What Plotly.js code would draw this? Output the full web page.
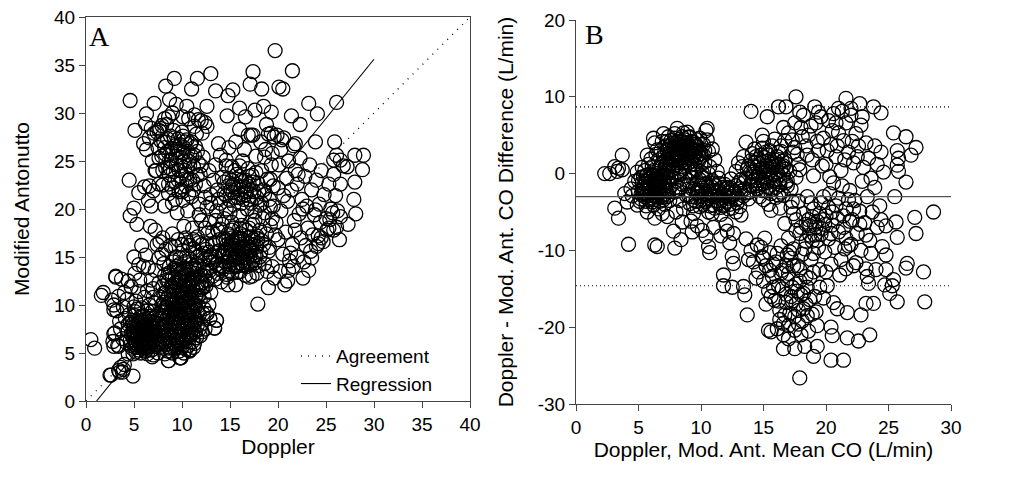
<!DOCTYPE html>
<html>
<head>
<meta charset="utf-8">
<script src="https://cdn.plot.ly/plotly-3.0.1.min.js"></script>
<style>html,body{margin:0;padding:0;background:#fff;}#chart{width:1026px;height:483px;}</style>
</head>
<body>
<div id="chart"></div>
<script>
// ---------- Panel A: Doppler (x) vs Modified Antonutto (y) ----------
const aLowLeft = [[4.2,6.1],[4.4,7.3],[4.6,8.2],[4.5,9.0],[4.8,5.5],[4.9,6.6],[5.0,7.8],[5.1,8.9],[5.2,6.0],[5.3,7.1],[5.4,9.6],[5.5,5.3],[5.6,6.4],[5.7,7.5],[5.8,8.4],[5.9,5.8],[6.0,6.9],[6.1,7.9],[6.2,5.2],[6.3,6.2],[6.4,7.3],[6.5,8.6],[6.6,5.7],[6.7,6.6],[6.8,7.7],[6.9,9.3],[7.0,5.4],[7.1,6.3],[7.2,7.2],[7.3,8.1],[5.0,5.9],[5.4,6.8],[5.9,7.0],[6.3,8.0],[6.0,6.0],[5.6,7.9],[4.7,7.0],[6.7,7.0],[5.2,8.3],[6.5,6.5],[4.1,8.6],[3.9,9.8],[4.3,10.6],[4.0,11.3],[4.7,11.9],[5.2,10.4],[5.8,9.7],[6.1,10.8],[3.6,7.5],[3.5,8.3],[3.2,9.4],[3.0,7.1],[2.8,6.2],[3.3,5.8],[3.8,6.5],[7.4,9.0],[7.6,6.8],[7.5,5.0],[6.4,4.9],[5.7,5.0],[4.9,4.9],[6.9,4.6],[7.2,10.2],[6.6,10.0],[5.5,11.4],[4.4,12.5],[3.7,12.7],[3.1,12.9],[3.4,10.9],[2.9,10.0]];
const aLowLeftCore = [[4.9,7.2],[5.1,6.3],[5.3,5.6],[5.3,7.6],[5.5,6.1],[5.5,8.1],[5.7,6.8],[5.8,5.5],[5.9,7.7],[6.0,6.4],[6.1,5.6],[6.2,7.1],[6.2,8.5],[6.4,6.0],[6.4,6.8],[6.6,7.9],[6.6,6.2],[6.8,5.3],[6.8,7.0],[6.9,6.0],[7.0,7.6],[7.1,8.6],[7.3,5.9],[7.3,6.9],[5.0,7.0],[5.2,5.1],[5.4,6.5],[5.6,7.2],[5.8,6.2],[6.0,7.4],[6.2,6.6],[6.3,5.6],[6.5,7.6],[6.7,8.3],[6.9,7.3],[5.7,8.8],[4.6,6.3],[4.8,8.4],[5.1,9.3],[6.0,8.9],[4.6,5.8],[4.9,8.0],[5.1,5.6],[5.3,6.7],[5.5,7.5],[5.7,5.8],[5.8,7.1],[6.0,5.4],[6.1,8.2],[6.3,7.5],[6.5,5.5],[6.6,8.8],[6.8,6.4],[7.0,8.3],[7.2,5.7],[7.4,6.2],[4.4,8.0],[5.0,9.8],[6.4,9.4],[7.0,10.8]];
const aLowMid = [[7.8,5.6],[7.9,6.8],[8.0,8.0],[8.1,9.2],[8.2,4.9],[8.3,6.2],[8.4,7.4],[8.5,8.7],[8.6,5.5],[8.7,6.6],[8.8,7.9],[8.9,9.5],[9.0,5.0],[9.1,6.0],[9.2,7.1],[9.3,8.3],[9.4,9.1],[9.5,5.6],[9.6,6.7],[9.7,7.7],[9.8,8.8],[9.9,4.5],[10.0,6.1],[10.1,7.3],[10.2,8.4],[10.3,9.6],[10.4,5.4],[10.5,6.5],[10.6,7.8],[10.7,9.0],[10.8,5.2],[10.9,6.9],[11.0,8.1],[11.1,9.4],[11.3,6.0],[11.4,7.2],[11.5,8.5],[11.7,9.9],[11.9,6.8],[12.0,8.0],[12.2,9.1],[12.4,7.5],[12.6,9.1],[12.9,8.6],[13.4,7.6],[13.6,8.4],[12.8,10.0],[8.6,4.2],[9.8,4.5],[10.8,5.3],[11.2,5.6],[8.4,5.9],[9.0,8.6],[10.0,9.9],[9.4,6.4],[10.6,7.0],[8.9,7.3],[9.6,8.1],[11.8,7.5],[7.7,7.4],[8.1,10.3]];
const aLowMidCore = [[8.2,6.6],[8.3,8.4],[8.5,5.2],[8.6,7.1],[8.7,9.0],[8.8,6.0],[8.9,8.2],[9.0,6.8],[9.1,9.6],[9.2,5.4],[9.3,7.6],[9.4,8.7],[9.5,6.2],[9.6,9.9],[9.7,5.2],[9.8,7.0],[9.9,8.3],[10.0,5.6],[10.1,6.8],[10.2,7.9],[10.3,9.0],[10.4,6.2],[10.5,7.5],[10.6,8.6],[10.7,5.8],[10.8,6.6],[10.9,7.9],[11.0,9.2],[11.1,6.2],[11.2,7.6],[11.3,8.8],[11.5,6.6],[11.6,7.9],[11.8,9.0],[8.4,9.8],[9.0,10.1],[9.5,7.2],[10.0,8.7],[10.4,10.3],[8.1,7.7],[8.8,5.2],[9.3,5.9],[10.2,5.0],[11.4,9.9],[12.1,7.2],[7.4,7.8],[7.6,5.9],[7.8,8.6],[8.0,6.3],[8.2,8.9],[8.5,6.9],[8.7,8.1],[8.9,5.8],[9.1,8.0],[9.2,9.1],[9.4,7.3],[9.6,5.9],[9.9,9.2],[10.1,6.4],[10.3,8.2],[10.7,6.8],[10.9,8.4],[11.1,7.0],[11.4,8.2],[11.6,9.4],[7.9,9.3],[8.3,9.7],[9.6,9.0],[10.9,9.7]];
const aMid = [[7.8,10.8],[8.0,12.0],[8.2,13.1],[8.3,11.3],[8.5,10.1],[8.6,12.5],[8.7,14.0],[8.9,11.0],[9.0,12.8],[9.1,10.3],[9.2,13.8],[9.3,11.8],[9.4,15.0],[9.5,10.6],[9.6,12.3],[9.7,14.2],[9.8,11.4],[9.9,13.3],[10.0,10.2],[10.1,15.7],[10.2,12.0],[10.3,14.5],[10.4,11.1],[10.5,13.1],[10.6,16.5],[10.7,12.6],[10.8,14.8],[10.9,10.6],[11.0,13.8],[11.1,11.9],[11.2,15.9],[11.3,12.8],[11.4,10.9],[11.5,14.3],[11.6,17.1],[11.7,13.0],[11.8,11.6],[11.9,15.2],[12.0,12.3],[12.1,16.3],[12.2,13.7],[12.3,10.9],[12.4,14.8],[12.6,12.5],[12.7,17.5],[12.8,15.5],[12.9,13.6],[13.0,11.3],[13.2,16.4],[13.3,14.5],[13.5,12.7],[13.7,17.8],[9.0,17.4],[9.6,16.8],[10.2,18.2],[8.3,15.8],[7.6,14.9],[7.2,13.6],[6.8,12.6],[6.5,13.9],[6.2,15.2],[5.8,16.2],[6.0,14.0],[7.4,16.3],[8.0,17.0],[7.9,15.3],[7.0,11.7],[6.4,11.5],[5.6,12.6],[5.1,13.3],[9.8,9.4],[10.9,12.3],[11.4,15.6],[10.4,17.0],[12.0,18.8],[11.1,18.0],[13.9,13.8],[13.8,15.6],[9.3,16.1],[8.8,16.2],[6.7,18.2],[7.2,17.8],[7.7,16.6],[5.5,14.2],[5.0,15.0],[12.2,15.4],[12.6,13.6],[13.0,15.2],[13.2,17.6],[13.5,18.8],[13.9,16.8],[12.9,18.6],[13.6,19.8],[14.2,18.4],[12.4,18.0],[11.8,19.4]];
const aMidCore = [[8.4,12.6],[8.6,11.0],[8.8,13.4],[8.9,12.0],[9.0,10.6],[9.1,14.5],[9.2,11.4],[9.3,12.9],[9.4,10.2],[9.5,13.7],[9.6,11.0],[9.7,12.6],[9.8,14.9],[9.9,10.7],[10.0,12.9],[10.1,11.5],[10.2,13.8],[10.3,10.4],[10.4,12.4],[10.5,15.1],[10.6,11.3],[10.7,13.6],[10.8,12.0],[10.9,14.2],[11.0,10.9],[11.1,12.7],[11.2,14.0],[11.3,11.4],[11.4,13.3],[11.5,12.1],[11.6,15.0],[11.7,11.0],[11.8,14.0],[12.0,13.1],[12.2,11.8],[12.4,13.0],[12.5,15.8],[9.6,13.5],[10.3,13.2],[10.7,10.1],[9.3,9.8],[11.3,10.1],[10.0,16.3],[11.8,16.5],[12.9,14.9],[7.9,10.0],[8.1,11.2],[8.4,10.6],[8.6,13.3],[8.8,10.5],[9.0,11.8],[9.3,12.3],[9.5,11.2],[9.7,10.0],[9.8,12.8],[10.0,11.4],[10.2,10.8],[10.4,13.8],[10.5,9.8],[10.6,12.2],[10.8,10.9],[11.0,12.5],[11.2,10.2],[11.3,13.8],[11.5,11.0],[11.7,12.3],[11.9,10.5],[12.1,11.8],[12.3,9.6],[12.5,12.0],[7.6,12.3],[8.1,14.3],[9.4,14.0],[10.8,16.2],[11.2,16.8],[12.6,16.4]];
const aRightMid = [[13.2,13.0],[13.6,14.2],[13.9,15.6],[14.1,12.4],[14.2,13.6],[14.3,16.8],[14.5,14.5],[14.6,15.8],[14.7,12.9],[14.8,17.4],[14.9,14.0],[15.0,15.2],[15.1,16.4],[15.2,13.3],[15.3,18.0],[15.4,14.8],[15.5,15.9],[15.6,12.1],[15.7,17.0],[15.8,14.2],[15.9,15.4],[16.0,16.6],[16.1,13.5],[16.2,18.3],[16.3,14.9],[16.4,16.0],[16.5,17.2],[16.6,13.1],[16.7,15.3],[16.8,16.5],[16.9,14.3],[17.0,18.0],[17.1,15.8],[17.2,17.1],[17.3,13.0],[17.4,14.6],[17.5,16.3],[17.6,18.8],[17.7,15.2],[17.8,13.3],[17.9,16.9],[18.0,14.1],[18.1,17.8],[18.2,15.5],[18.4,19.0],[18.5,16.3],[18.6,14.3],[18.8,17.4],[18.9,13.5],[19.0,15.6],[19.2,18.3],[14.0,17.9],[13.5,16.5],[12.8,14.7],[14.4,19.0],[15.0,19.6],[16.0,19.3],[16.8,20.0],[17.6,19.7],[18.3,20.6],[19.2,20.2],[15.2,17.8],[14.6,13.2],[16.4,14.1],[17.0,12.9],[15.6,15.0],[16.2,15.8],[15.0,16.1],[18.6,19.6],[19.4,19.0]];
const aRightMidCore = [[14.5,15.5],[14.7,16.3],[14.9,15.0],[15.0,14.2],[15.1,15.8],[15.2,17.0],[15.4,16.2],[15.5,14.1],[15.6,15.5],[15.7,16.4],[15.8,13.4],[15.9,16.9],[16.0,15.0],[16.1,14.4],[16.2,16.9],[16.3,15.5],[16.5,14.5],[16.6,16.0],[16.7,17.8],[16.8,14.9],[17.0,16.0],[17.1,14.2],[17.2,15.6],[17.4,16.8],[17.5,15.1],[14.3,15.1],[14.0,14.1],[13.7,13.3],[13.5,15.0],[17.8,16.1],[14.3,14.0],[14.6,16.8],[14.8,15.4],[15.0,13.6],[15.3,16.6],[15.5,15.1],[15.7,14.0],[15.9,15.9],[16.1,17.4],[16.3,14.2],[16.5,15.6],[16.7,14.0],[16.9,17.0],[17.1,15.1],[17.3,16.2],[17.6,14.4],[17.8,17.2],[18.1,15.0],[18.3,16.7],[16.0,18.0],[15.2,18.6],[17.4,18.4]];
const aUpper = [[12.6,20.2],[13.0,21.5],[13.3,23.0],[13.5,24.6],[13.7,22.0],[14.0,20.6],[14.2,23.3],[14.4,21.6],[14.6,24.5],[14.8,22.4],[15.0,20.9],[15.2,23.0],[15.3,21.7],[15.5,24.0],[15.6,22.6],[15.8,21.2],[16.0,23.4],[16.1,22.0],[16.3,25.0],[16.4,21.0],[16.6,23.0],[16.7,21.8],[16.9,24.2],[17.0,22.6],[17.2,20.6],[17.3,23.5],[17.5,21.8],[17.7,25.5],[17.9,22.7],[18.1,20.4],[18.3,24.0],[18.5,22.0],[18.7,26.2],[18.9,23.1],[19.1,21.0],[19.3,24.6],[19.5,22.4],[14.0,25.6],[14.9,26.4],[15.6,27.0],[16.5,26.2],[17.2,27.7],[12.3,22.4],[12.0,24.5],[13.8,26.8],[14.6,25.1],[13.0,20.6],[13.8,21.0],[14.6,20.0],[15.4,20.4],[16.2,20.6],[17.0,21.0],[17.8,21.2]];
const aUpperCore = [[14.6,21.4],[14.9,23.2],[15.1,22.0],[15.3,22.5],[15.5,21.2],[15.7,23.6],[15.9,22.3],[16.1,21.5],[16.2,23.0],[16.4,22.3],[16.6,21.5],[16.8,22.4],[17.0,23.4],[17.2,22.0],[17.4,22.8],[15.2,24.4],[16.0,24.5],[17.7,23.8],[14.4,22.8],[18.0,21.8]];
const aUpperLeft = [[6.0,26.8],[6.3,26.2],[6.6,27.4],[6.9,25.0],[7.1,27.9],[7.3,24.0],[7.5,26.4],[7.7,28.4],[7.9,25.5],[8.0,22.5],[8.1,27.0],[8.3,24.3],[8.4,28.8],[8.5,26.0],[8.6,21.6],[8.7,23.5],[8.8,27.6],[8.9,25.1],[9.0,20.6],[9.1,28.2],[9.2,22.8],[9.3,26.6],[9.4,24.6],[9.5,19.6],[9.6,27.3],[9.7,21.8],[9.8,25.4],[9.9,23.4],[10.0,28.0],[10.1,20.9],[10.2,26.4],[10.3,24.0],[10.4,22.4],[10.5,27.2],[10.6,19.8],[10.7,25.0],[10.8,23.1],[10.9,26.8],[11.0,21.3],[11.2,24.4],[11.3,28.6],[11.4,22.6],[11.6,26.0],[11.8,20.5],[11.9,23.6],[12.1,27.9],[12.2,25.4],[12.4,21.2],[12.6,28.6],[12.8,24.0],[7.2,24.0],[7.6,22.6],[8.2,20.3],[7.0,21.9],[6.6,22.4],[9.0,30.0],[8.6,29.6],[7.9,28.7],[7.4,28.0],[6.8,28.4],[10.7,29.4],[11.7,29.3],[12.4,29.0],[9.7,26.0],[8.3,25.7]];
const aUpperLeftCore = [[8.2,26.4],[8.5,27.3],[8.7,25.0],[8.9,26.3],[9.1,23.9],[9.2,27.4],[9.4,25.5],[9.6,23.0],[9.8,26.7],[9.9,24.5],[10.1,27.6],[10.2,25.0],[10.4,23.6],[10.6,26.0],[10.8,24.6],[11.0,27.0],[11.1,23.0],[11.3,25.6],[11.5,27.8],[11.7,24.8],[7.8,27.1],[7.6,25.3],[8.0,24.0],[9.0,22.2],[10.0,21.8],[8.6,22.6],[8.8,24.2],[9.0,25.8],[9.3,21.0],[9.5,26.2],[9.7,24.0],[9.9,22.0],[10.1,25.8],[10.3,27.0],[10.5,23.0],[10.7,21.6],[11.0,25.5],[11.2,22.0],[11.4,26.5],[11.6,23.5]];
const aRightSpread = [[18.2,27.0],[18.6,25.4],[19.0,27.8],[19.4,25.8],[19.6,27.5],[20.1,24.6],[20.3,26.2],[20.6,27.4],[20.9,23.2],[21.1,25.0],[21.4,22.0],[21.6,26.6],[21.8,24.0],[22.0,22.6],[22.3,25.3],[22.5,21.0],[22.8,23.4],[23.0,20.3],[23.3,24.6],[23.5,22.0],[23.8,19.4],[24.0,23.0],[24.3,20.5],[24.5,24.0],[24.8,21.5],[25.0,19.0],[25.3,22.6],[25.5,20.0],[25.8,23.6],[26.0,21.4],[26.2,19.8],[26.5,22.6],[26.8,24.5],[19.5,20.3],[19.8,18.6],[20.0,16.8],[20.3,19.8],[20.5,15.3],[20.8,17.6],[21.0,20.8],[21.2,14.6],[21.5,16.3],[21.7,18.8],[22.0,15.0],[22.2,19.5],[22.4,17.0],[22.7,14.5],[22.9,16.2],[23.1,18.0],[23.4,15.6],[23.6,17.3],[23.9,19.9],[24.2,17.2],[24.4,18.6],[24.7,16.6],[25.1,17.8],[25.4,18.9],[25.7,19.6],[26.1,18.1],[19.1,16.0],[19.4,14.0],[19.6,12.8],[20.2,13.5],[21.0,12.5],[20.6,21.4],[19.2,23.1],[22.6,20.0],[21.3,15.4],[18.6,21.5],[22.1,23.6],[20.0,22.2],[19.7,17.3],[23.2,13.6],[21.8,17.8]];
const aOutliers = [[19.7,36.5],[21.5,34.4],[17.4,34.3],[13.0,34.1],[9.2,33.6],[11.6,33.6],[8.3,32.8],[11.0,32.5],[13.5,32.3],[15.3,32.4],[17.1,33.0],[20.1,32.7],[20.5,32.5],[18.3,32.5],[14.8,31.8],[4.6,31.3],[26.1,31.1],[23.2,31.0],[8.7,31.4],[7.1,31.0],[12.6,30.7],[9.4,30.9],[10.5,30.7],[16.0,30.5],[17.6,30.3],[18.5,30.7],[19.3,30.1],[16.6,29.6],[14.7,29.7],[21.4,29.7],[24.1,29.9],[22.3,28.8],[6.3,29.9],[6.2,28.9],[11.3,29.8],[12.0,29.2],[10.1,29.6],[8.2,29.4],[7.6,28.2],[5.1,28.2],[18.8,28.8],[16.0,28.3],[16.9,27.7],[17.4,27.7],[19.3,27.9],[19.9,27.7],[20.4,27.2],[21.8,26.8],[23.9,27.0],[25.9,27.0],[26.1,25.6],[26.5,25.1],[25.8,25.1],[27.2,24.4],[28.0,25.6],[28.9,25.6],[28.8,24.1],[28.0,22.8],[27.9,21.0],[28.1,19.5],[27.3,18.4],[26.5,19.2],[26.4,16.8],[25.8,17.8],[25.3,18.0],[24.5,17.0],[24.2,16.4],[24.0,16.1],[23.5,14.9],[22.6,12.8],[20.7,12.1],[19.0,11.8],[17.9,10.1],[14.8,12.1],[21.6,14.0],[21.1,13.6],[4.5,23.0],[4.6,19.3],[5.0,20.1],[5.3,18.4],[5.5,21.7],[6.5,20.9],[6.1,22.3],[6.8,20.3],[1.8,11.3],[1.6,11.0],[0.5,6.4],[0.9,5.5],[3.1,13.0],[2.5,2.7],[2.6,2.7],[4.9,2.6],[3.4,3.2],[3.6,3.5],[3.8,3.0],[4.0,3.8],[3.5,3.0],[3.9,3.3],[2.7,10.5],[2.9,9.5],[2.9,7.0],[2.9,5.7],[13.6,8.4],[13.4,7.6],[12.6,9.1],[12.9,8.6],[10.8,5.3],[9.8,4.5],[8.6,4.2],[7.0,4.8],[4.4,4.9],[3.4,5.7]];
const pointsA = [].concat(aLowLeft, aLowLeftCore, aLowMid, aLowMidCore, aMid, aMidCore, aRightMid, aRightMidCore, aUpper, aUpperCore, aUpperLeft, aUpperLeftCore, aRightSpread, aOutliers);
const dopplerA = pointsA.map(p => p[0]);
const modAntA = pointsA.map(p => p[1]);

// agreement (identity) and regression line end points
const agreementX = [0, 40];
const agreementY = [0, 40];
const regressionX = [1.1, 30];
const regressionY = [0, 35.6];

// ---------- Panel B: Bland–Altman, mean (x) vs difference (y) ----------
const bLeft = [[4.7,-1.0],[4.9,0.2],[5.0,-2.3],[5.1,-3.6],[5.2,-0.5],[5.3,0.8],[5.4,-1.7],[5.5,-3.0],[5.6,-4.2],[5.7,-0.2],[5.8,1.2],[5.9,-1.2],[6.0,-2.5],[6.1,-3.7],[6.2,0.4],[6.3,-0.8],[6.4,-2.0],[6.5,-3.2],[6.6,-4.6],[6.7,0.8],[6.8,-0.4],[6.9,-1.6],[7.0,-2.8],[7.1,-4.0],[7.2,0.1],[7.3,-1.1],[7.4,-2.3],[7.5,-3.5],[5.4,-0.4],[5.9,-0.1],[6.3,-1.4],[5.6,-2.2],[6.6,-2.6],[6.1,-1.0],[6.5,0.0],[5.2,-2.7],[6.9,-5.2],[6.3,-5.8],[5.7,-5.0],[7.3,-5.6],[4.5,-2.9],[4.4,-2.0],[6.0,1.9],[5.8,-3.4],[6.7,-1.1]];
const bLeftCore = [[5.5,-1.3],[5.6,-0.3],[5.7,-2.6],[5.8,-1.8],[5.9,-0.6],[6.0,-1.5],[6.0,-3.2],[6.1,-2.2],[6.2,-0.2],[6.2,-2.8],[6.3,-1.9],[6.4,-0.4],[6.4,-3.0],[6.5,-1.2],[6.5,-2.4],[6.6,-0.7],[6.7,-1.8],[6.8,-2.9],[6.8,-1.0],[6.9,-0.2],[7.0,-2.0],[7.0,-3.4],[7.1,-1.2],[7.2,-2.2],[5.3,-1.2],[5.2,-3.3],[5.6,-3.6],[6.2,-4.1],[6.7,-3.6],[7.4,-0.5],[5.0,-0.9],[5.5,0.4],[6.1,0.9],[5.3,-2.1],[7.3,-3.0],[5.4,-2.6],[5.6,-1.0],[5.8,-2.9],[6.0,-0.6],[6.2,-1.5],[6.3,-3.4],[6.5,-0.8],[6.7,-2.2],[6.9,-3.1],[7.0,-1.0],[7.2,-1.6],[7.4,-2.8],[7.6,-1.6],[7.8,-0.6],[7.9,-2.4],[8.1,-1.0],[8.3,-1.9]];
const bUpperLeft = [[6.6,1.8],[6.8,3.0],[6.9,4.2],[7.0,2.2],[7.1,0.6],[7.2,3.6],[7.3,1.4],[7.4,4.8],[7.5,2.7],[7.6,-0.4],[7.7,3.9],[7.8,1.0],[7.9,5.2],[8.0,2.3],[8.1,3.4],[8.2,0.2],[8.3,4.5],[8.4,1.6],[8.5,2.9],[8.6,5.3],[8.7,0.8],[8.8,3.9],[8.9,2.1],[9.0,4.7],[9.1,1.1],[9.2,3.2],[9.3,-0.5],[9.4,4.1],[9.5,2.4],[9.6,0.5],[9.7,3.5],[9.8,1.6],[9.9,4.6],[10.0,2.6],[10.1,0.1],[10.2,3.8],[10.3,1.5],[10.4,5.6],[10.5,4.4],[10.6,2.9],[10.7,0.9],[10.9,3.2],[11.1,1.8],[11.3,0.3],[8.0,0.8],[7.6,2.0],[8.3,3.1],[8.9,3.3],[9.2,2.0],[8.6,1.4],[7.4,3.2],[8.1,4.2],[9.6,2.9],[7.2,-0.3],[6.4,2.5],[6.3,4.0],[6.5,3.1]];
const bUpperLeftCore = [[7.1,2.8],[7.2,1.8],[7.3,3.0],[7.4,2.2],[7.5,3.6],[7.5,1.2],[7.6,4.3],[7.7,2.6],[7.8,3.4],[7.8,1.8],[7.9,2.8],[8.0,4.0],[8.0,1.4],[8.1,2.8],[8.2,3.8],[8.2,1.8],[8.3,2.4],[8.4,3.5],[8.4,0.9],[8.5,4.1],[8.5,2.0],[8.6,3.1],[8.7,2.4],[8.7,4.4],[8.8,1.6],[8.8,3.0],[8.9,4.0],[9.0,2.6],[9.0,1.4],[9.1,3.6],[9.2,2.7],[9.3,1.6],[9.3,4.2],[9.4,3.0],[9.5,1.2],[9.5,3.8],[9.6,2.0],[9.8,3.0],[9.9,2.1],[10.0,3.8],[10.2,2.4],[7.7,0.5],[8.3,0.0],[9.1,0.3],[8.9,5.4],[6.8,1.2],[7.0,0.0],[7.2,1.0],[7.4,0.4],[7.6,1.3],[7.8,2.2],[8.0,3.2],[8.2,2.4],[8.4,2.9],[8.6,3.6],[8.8,2.6],[9.0,3.3],[9.2,4.2],[9.4,2.4],[9.6,3.8],[9.8,2.5],[10.0,1.2],[10.3,3.0],[7.3,4.2],[7.9,4.6],[8.5,4.8],[9.1,4.8],[9.7,4.4]];
const bMid = [[8.1,-2.2],[8.3,-3.5],[8.5,-1.4],[8.6,-4.6],[8.8,-2.8],[9.0,-0.9],[9.1,-3.9],[9.3,-2.0],[9.4,-5.2],[9.6,-3.1],[9.7,-1.2],[9.9,-4.3],[10.0,-2.4],[10.2,-0.6],[10.3,-3.6],[10.5,-1.7],[10.6,-5.0],[10.8,-2.9],[10.9,-0.9],[11.0,-4.1],[11.2,-2.2],[11.3,-3.5],[11.5,-1.3],[11.6,-5.3],[11.8,-2.7],[11.9,-4.0],[12.1,-1.8],[12.2,-3.2],[12.4,-0.7],[12.5,-4.5],[12.7,-2.4],[12.9,-3.8],[13.0,-1.2],[13.2,-5.4],[13.4,-2.9],[10.4,-2.6],[11.1,-3.0],[10.0,-3.4],[11.7,-3.4],[9.2,-6.2],[10.1,-7.4],[11.0,-7.0],[12.0,-6.6],[12.6,-7.8],[9.7,-6.8],[8.5,-6.3],[8.0,-5.0],[7.8,-7.5],[8.4,-8.6],[9.3,-7.6],[11.6,-8.1],[12.3,-9.0],[12.1,-7.5],[10.4,-8.2]];
const bMidCore = [[9.5,-2.0],[9.6,-3.6],[9.8,-2.5],[9.9,-1.6],[10.0,-3.0],[10.1,-1.9],[10.2,-4.0],[10.3,-2.7],[10.4,-1.4],[10.5,-3.3],[10.6,-2.3],[10.7,-4.2],[10.8,-1.7],[10.9,-3.0],[11.0,-2.2],[11.1,-4.5],[11.2,-1.6],[11.3,-2.9],[11.4,-3.9],[11.5,-2.3],[11.6,-3.2],[11.7,-1.8],[11.8,-4.2],[11.9,-2.9],[12.0,-2.0],[12.1,-3.6],[12.2,-2.5],[12.3,-4.0],[12.4,-1.9],[12.5,-3.0],[12.6,-2.6],[12.8,-1.6],[13.0,-3.2],[13.2,-2.3],[10.1,-0.4],[10.9,-5.2],[11.4,-0.6],[12.8,-5.0],[9.4,-4.2],[9.0,-2.8],[8.7,-0.3],[9.4,0.2],[9.9,-0.8],[10.6,0.0],[8.9,-1.6],[9.2,-3.0],[9.7,-2.4],[10.3,-1.3],[10.7,-3.2],[11.0,-1.2],[11.3,-2.4],[11.6,-4.4],[11.9,-1.4],[12.2,-4.6],[12.5,-2.2],[12.8,-3.4],[13.1,-2.0]];
const bCenter = [[12.8,0.3],[13.0,1.4],[13.2,-0.8],[13.4,2.2],[13.5,-2.0],[13.7,0.6],[13.8,-3.3],[14.0,1.7],[14.1,-0.4],[14.3,3.2],[14.4,-1.6],[14.5,0.9],[14.7,-3.0],[14.8,2.4],[14.9,-0.9],[15.0,4.2],[15.1,0.2],[15.2,-2.2],[15.3,1.6],[15.4,-4.0],[15.5,3.0],[15.6,-0.5],[15.7,-1.9],[15.8,1.0],[15.9,4.5],[16.0,-3.1],[16.1,2.2],[16.2,-0.2],[16.3,-1.5],[16.4,3.6],[16.5,0.8],[16.6,-2.8],[16.7,1.8],[16.9,-0.9],[17.0,5.3],[17.1,0.3],[17.2,-2.0],[17.4,2.8],[17.6,-0.5],[17.8,1.2],[14.6,-0.1],[15.4,0.6],[15.0,-1.3],[16.0,0.9],[14.2,0.2],[13.6,4.1],[14.9,5.0],[16.7,4.3],[15.6,-4.8],[13.1,-4.3],[16.3,-4.5],[17.3,-3.6]];
const bCenterCore = [[13.6,-0.6],[13.8,1.0],[13.9,-1.6],[14.0,0.2],[14.2,-0.9],[14.3,1.4],[14.4,-0.5],[14.5,-2.0],[14.6,1.9],[14.7,0.2],[14.8,-1.4],[14.9,0.6],[15.0,2.1],[15.1,-0.6],[15.2,1.0],[15.3,-1.2],[15.4,2.4],[15.5,0.2],[15.6,-2.6],[15.7,0.8],[15.8,-1.0],[15.9,1.8],[16.0,-1.8],[16.1,0.2],[16.2,1.2],[16.3,-0.8],[16.4,-2.4],[16.5,1.6],[16.6,-0.2],[16.8,0.6],[14.1,2.6],[14.9,3.3],[15.7,3.6],[13.3,0.9],[16.9,-1.6],[13.4,-1.2],[13.7,-2.5],[14.0,-1.4],[14.2,1.0],[14.5,-0.9],[14.7,1.3],[14.9,-2.2],[15.2,0.4],[15.4,-1.8],[15.6,1.6],[15.8,0.0],[16.0,-0.7],[16.2,-2.8],[16.4,0.4],[16.6,1.0],[16.8,-1.2],[14.4,2.2],[15.2,2.8],[16.2,2.8],[15.0,-3.4],[13.9,-2.4]];
const bLowBand = [[13.6,-8.5],[14.0,-10.0],[14.2,-11.5],[14.5,-9.3],[14.6,-12.8],[14.9,-10.8],[15.0,-14.0],[15.2,-12.0],[15.4,-15.3],[15.5,-10.3],[15.7,-13.4],[15.9,-16.5],[16.0,-11.5],[16.2,-14.6],[16.3,-17.8],[16.5,-12.6],[16.6,-19.5],[16.8,-15.7],[16.9,-13.8],[17.1,-18.2],[17.2,-11.0],[17.3,-16.6],[17.5,-20.4],[17.6,-14.4],[17.8,-17.8],[17.9,-12.5],[18.1,-19.2],[18.2,-15.6],[18.4,-17.0],[18.6,-20.5],[18.7,-13.6],[18.9,-18.3],[19.1,-16.0],[19.3,-19.8],[19.5,-14.8],[16.1,-20.2],[15.4,-20.4],[16.6,-21.0],[17.0,-21.5],[18.3,-22.5],[17.7,-15.3],[18.0,-21.0],[16.4,-9.4],[15.1,-8.4],[14.4,-13.6],[13.8,-11.2],[15.8,-11.8],[16.4,-13.0],[16.8,-16.8],[17.3,-14.8],[17.6,-17.0],[18.0,-15.8],[17.5,-18.6],[18.5,-18.5],[16.2,-16.6],[17.0,-19.8],[15.2,-17.0],[16.8,-12.0],[15.0,-11.0],[15.5,-12.6],[15.8,-14.8],[16.1,-10.4],[16.5,-15.0],[16.7,-18.4],[17.0,-13.0],[17.2,-16.0],[17.4,-12.0],[17.8,-19.6],[17.9,-14.0],[18.2,-17.6],[18.5,-14.8],[18.7,-16.4],[19.0,-12.8],[19.2,-18.0],[17.1,-10.2],[16.3,-19.0],[15.6,-16.0],[14.8,-9.6]];
const bRightMid = [[16.7,-6.5],[17.0,-8.4],[17.2,-4.4],[17.4,-9.8],[17.6,-6.0],[17.8,-3.6],[17.9,-7.8],[18.1,-10.5],[18.2,-5.2],[18.4,-8.8],[18.5,-3.0],[18.7,-6.8],[18.8,-11.2],[19.0,-4.6],[19.1,-8.0],[19.3,-6.2],[19.4,-9.6],[19.6,-3.8],[19.7,-7.2],[19.9,-10.2],[20.0,-5.5],[20.2,-8.5],[20.3,-2.6],[20.5,-6.7],[20.7,-9.6],[20.8,-4.2],[21.0,-7.6],[21.2,-11.2],[21.4,-5.5],[21.6,-8.4],[21.8,-3.4],[21.9,-6.2],[18.6,-6.0],[19.2,-7.0],[18.9,-8.8],[19.8,-6.0],[18.0,-7.0],[16.9,-10.6],[17.7,-12.0],[19.5,-12.5],[20.4,-11.8],[21.1,-13.2],[18.4,-13.4],[20.1,-14.6],[18.4,-6.6],[18.7,-8.0],[18.9,-5.6],[19.1,-6.6],[19.3,-8.7],[19.5,-5.2],[19.6,-7.9],[19.9,-6.6],[18.3,-9.8],[19.0,-10.4],[17.6,-7.4],[20.2,-4.4],[20.5,-5.0],[18.8,-3.8],[17.4,-5.2]];
const bRightUpper = [[17.3,4.4],[17.5,6.6],[17.7,2.5],[18.0,6.0],[18.2,7.6],[18.4,3.6],[18.6,5.0],[18.9,1.8],[19.2,6.6],[19.4,3.0],[19.6,7.4],[19.8,4.6],[20.0,1.2],[20.2,6.9],[20.4,3.8],[20.6,7.8],[20.8,2.2],[21.0,5.3],[21.2,0.4],[21.4,4.3],[21.6,6.6],[21.8,2.8],[22.0,7.6],[22.2,1.4],[22.4,5.2],[22.6,3.6],[22.8,6.3],[23.0,0.8],[23.2,4.0],[23.4,2.0],[23.6,-0.6],[23.9,3.6],[24.1,1.2],[24.4,2.8],[24.6,0.2],[16.6,6.0],[16.4,2.9],[17.9,0.5],[19.0,-0.3],[21.3,8.1],[22.9,7.4],[17.5,3.4],[18.1,4.8],[18.5,2.4],[18.8,6.2],[19.3,4.2],[19.7,1.0],[20.1,3.0],[20.5,5.6],[20.9,3.6],[21.5,1.8],[22.1,4.2],[22.5,2.2],[17.9,8.0],[19.4,8.0],[20.8,6.6]];
const bRightLower = [[20.6,-1.2],[21.0,-3.2],[21.3,-1.6],[21.6,-4.6],[21.9,-2.2],[22.1,-6.0],[22.3,-3.5],[22.5,-7.8],[22.7,-4.9],[22.9,-1.0],[23.1,-6.4],[23.3,-3.0],[23.5,-8.7],[23.7,-5.0],[23.9,-1.8],[24.1,-7.0],[24.3,-4.2],[24.5,-9.5],[22.0,-9.2],[22.8,-10.0],[23.6,-10.4],[22.4,-11.6],[21.5,-9.8],[22.2,-12.0],[23.2,-12.4],[24.0,-12.5],[24.4,-6.0],[20.3,-0.4],[19.8,-3.0],[20.4,-7.8],[20.9,-5.8],[21.4,-7.0],[21.8,-9.4],[22.2,-4.6],[22.7,-6.6],[23.2,-8.0],[20.0,-12.8],[21.6,-12.4]];
const bOutliers = [[2.3,0.0],[2.7,0.0],[3.1,0.9],[3.4,0.7],[3.7,0.5],[3.3,0.3],[3.7,2.4],[3.1,-4.5],[3.4,-5.8],[4.2,-9.2],[6.3,-9.3],[6.5,-9.5],[7.9,-9.7],[3.9,-2.6],[4.1,-3.7],[4.9,-4.1],[5.7,2.4],[6.2,4.6],[7.0,5.2],[8.1,5.9],[10.5,5.9],[14.0,8.1],[15.3,7.4],[16.2,8.7],[16.8,8.7],[17.6,10.0],[21.6,9.8],[21.0,8.5],[22.0,8.5],[22.7,9.1],[23.8,8.7],[19.1,8.7],[24.4,7.9],[25.4,5.3],[26.4,4.8],[27.2,3.4],[26.8,2.4],[25.7,3.0],[25.8,2.0],[25.7,1.1],[25.8,0.3],[26.4,-1.1],[25.5,-3.0],[27.1,-5.7],[27.2,-7.8],[28.6,-5.0],[25.6,-6.3],[25.7,-8.3],[24.8,-6.8],[24.8,-10.6],[26.5,-11.7],[26.4,-12.3],[27.8,-12.8],[27.9,-16.7],[25.7,-16.7],[25.1,-15.6],[25.4,-13.8],[25.3,-14.6],[24.7,-14.5],[24.8,-12.5],[23.8,-16.9],[23.2,-16.9],[23.4,-14.3],[23.3,-13.4],[23.5,-21.0],[22.8,-18.4],[22.6,-21.8],[21.7,-21.4],[21.7,-18.1],[20.4,-24.3],[21.4,-24.3],[19.0,-23.8],[19.3,-22.5],[17.9,-26.6],[16.6,-22.8],[17.5,-22.8],[15.6,-20.6],[13.7,-18.4],[13.5,-15.8],[13.4,-14.7],[11.8,-13.2],[11.8,-14.6],[12.5,-14.8],[12.5,-10.8],[12.6,-11.7],[10.6,-9.5],[10.7,-10.3],[20.4,-20.0],[20.5,-21.1],[20.9,-17.6],[20.6,-16.8],[19.8,-16.2]];
const pointsB = [].concat(bLeft, bLeftCore, bUpperLeft, bUpperLeftCore, bMid, bMidCore, bCenter, bCenterCore, bLowBand, bRightMid, bRightUpper, bRightLower, bOutliers);
const meanCO = pointsB.map(p => p[0]);
const diffCO = pointsB.map(p => p[1]);

// reference lines of panel B
const limitX = [0, 30];
const meanDiff = -3.0;
const upperLimit = 8.7;
const lowerLimit = -14.6;

// tick labels
const aTicks = [0, 5, 10, 15, 20, 25, 30, 35, 40];
const bXTicks = [0, 5, 10, 15, 20, 25, 30];
const bYTicks = [-30, -20, -10, 0, 10, 20];
const bYTickText = ['-30', '-20', '-10', '0', '10', '20'];

const sans = 'Liberation Sans, Arial, sans-serif';
const serif = 'Liberation Serif, Times New Roman, serif';
const markerStyle = {symbol: 'circle-open', size: 14, color: '#000', line: {width: 1.3, color: '#000'}};

const traces = [
  {x: dopplerA, y: modAntA, type: 'scatter', mode: 'markers', marker: markerStyle, xaxis: 'x', yaxis: 'y', showlegend: false, hoverinfo: 'skip'},
  {x: agreementX, y: agreementY, type: 'scatter', mode: 'lines', name: 'Agreement', line: {color: '#000', width: 1.3, dash: '1px,6px'}, xaxis: 'x', yaxis: 'y'},
  {x: regressionX, y: regressionY, type: 'scatter', mode: 'lines', name: 'Regression', line: {color: '#000', width: 1.1}, xaxis: 'x', yaxis: 'y'},
  {x: meanCO, y: diffCO, type: 'scatter', mode: 'markers', marker: markerStyle, xaxis: 'x2', yaxis: 'y2', showlegend: false, hoverinfo: 'skip'},
  {x: limitX, y: [upperLimit, upperLimit], type: 'scatter', mode: 'lines', line: {color: '#000', width: 1.2, dash: '1px,3px'}, xaxis: 'x2', yaxis: 'y2', showlegend: false},
  {x: limitX, y: [meanDiff, meanDiff], type: 'scatter', mode: 'lines', line: {color: '#555', width: 1.2}, xaxis: 'x2', yaxis: 'y2', showlegend: false},
  {x: limitX, y: [lowerLimit, lowerLimit], type: 'scatter', mode: 'lines', line: {color: '#000', width: 1.2, dash: '1px,3px'}, xaxis: 'x2', yaxis: 'y2', showlegend: false}
];

const titleFont = {family: sans, size: 21, color: '#000'};
const axisCommon = {
  showgrid: false, zeroline: false, showline: true, linecolor: '#444', linewidth: 1,
  ticks: 'outside', ticklen: 6, tickcolor: '#444', tickwidth: 1,
  tickfont: {family: sans, size: 19, color: '#000'}
};

const W = 1026, H = 483;
const layout = {
  width: W, height: H,
  margin: {l: 0, r: 0, t: 0, b: 0},
  paper_bgcolor: '#fff', plot_bgcolor: '#fff',
  showlegend: true,
  legend: {x: 296 / W, y: 1 - 337 / H, xanchor: 'left', yanchor: 'top', bgcolor: 'rgba(0,0,0,0)',
           font: {family: sans, size: 19, color: '#000'}, tracegroupgap: 0},
  xaxis: Object.assign({}, axisCommon, {domain: [86 / W, 470 / W], range: [0, 40], tickmode: 'array', tickvals: aTicks, mirror: true, anchor: 'y',
         title: {text: 'Doppler', font: titleFont, standoff: 4}}),
  yaxis: Object.assign({}, axisCommon, {domain: [1 - 401 / H, 1 - 17 / H], range: [0, 40], tickmode: 'array', tickvals: aTicks, mirror: true, anchor: 'x',
         title: {text: 'Modified Antonutto', font: titleFont, standoff: 18}}),
  xaxis2: Object.assign({}, axisCommon, {domain: [576 / W, 951 / W], range: [0, 30], tickmode: 'array', tickvals: bXTicks, anchor: 'y2',
         title: {text: 'Doppler, Mod. Ant. Mean CO (L/min)', font: titleFont, standoff: 4}}),
  yaxis2: Object.assign({}, axisCommon, {domain: [1 - 404 / H, 1 - 20 / H], range: [-30, 20], tickmode: 'array', tickvals: bYTicks, ticktext: bYTickText, anchor: 'x2',
         title: {text: 'Doppler - Mod. Ant. CO Difference (L/min)', font: titleFont, standoff: 18}}),
  annotations: [
    {text: 'A', xref: 'paper', yref: 'paper', x: 87 / W, y: 1 - 19 / H, xanchor: 'left', yanchor: 'top', showarrow: false, font: {family: serif, size: 28, color: '#000'}},
    {text: 'B', xref: 'paper', yref: 'paper', x: 583 / W, y: 1 - 17 / H, xanchor: 'left', yanchor: 'top', showarrow: false, font: {family: serif, size: 28, color: '#000'}},
    {text: '+2 SD', xref: 'x2', yref: 'y2', x: 30.4, y: upperLimit, xanchor: 'left', yanchor: 'middle', showarrow: false, font: {family: sans, size: 19, color: '#000'}},
    {text: 'Mean', xref: 'x2', yref: 'y2', x: 30.4, y: meanDiff, xanchor: 'left', yanchor: 'middle', showarrow: false, font: {family: sans, size: 19, color: '#000'}},
    {text: '-2 SD', xref: 'x2', yref: 'y2', x: 30.4, y: lowerLimit, xanchor: 'left', yanchor: 'middle', showarrow: false, font: {family: sans, size: 19, color: '#000'}}
  ]
};

Plotly.newPlot('chart', traces, layout, {staticPlot: true, displayModeBar: false});
</script>
</body>
</html>
